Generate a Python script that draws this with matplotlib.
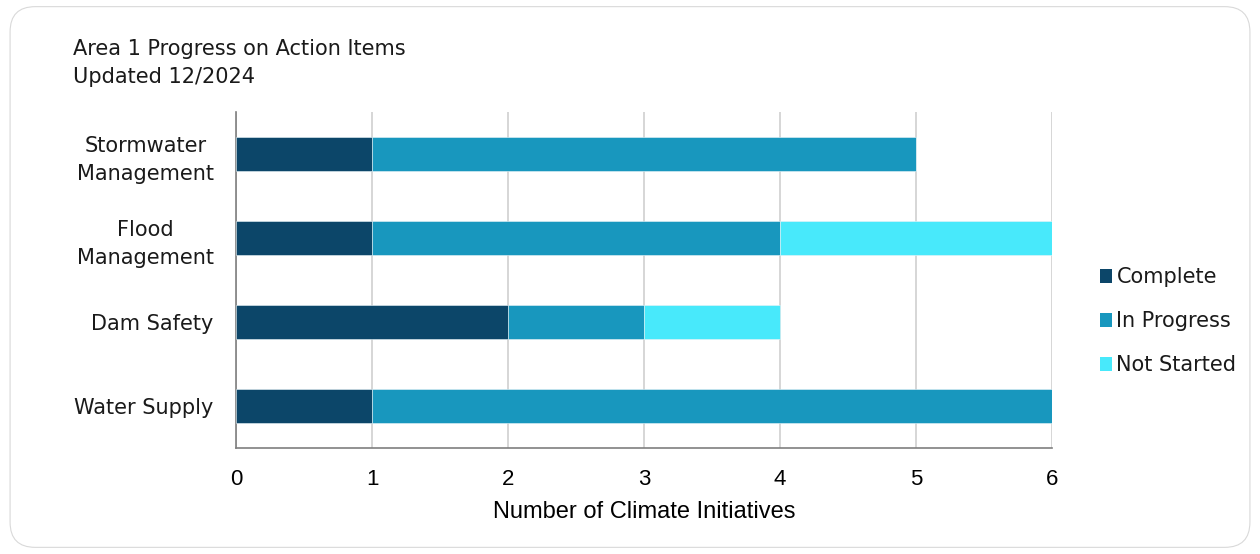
import matplotlib
matplotlib.use("Agg")
import matplotlib.pyplot as plt
from matplotlib.patches import FancyBboxPatch, Patch
import numpy as np

categories = ["Stormwater\nManagement", "Flood\nManagement", "Dam Safety", "Water Supply"]
complete = [1, 1, 2, 1]
in_progress = [4, 3, 1, 5]
not_started = [0, 2, 1, 0]
series_names = ["Complete", "In Progress", "Not Started"]
colors = ["#0c4669", "#1897be", "#48e9fb"]
xticks = [0, 1, 2, 3, 4, 5, 6]

fig = plt.figure(figsize=(12.6, 5.54), dpi=100)
fig.patch.set_facecolor("white")

border = FancyBboxPatch((0.008, 0.012), 0.984, 0.976,
                        boxstyle="round,pad=0,rounding_size=0.02",
                        transform=fig.transFigure, facecolor="none",
                        edgecolor="#d9d9d9", linewidth=0.8,
                        mutation_aspect=1260 / 554, zorder=-1)
fig.patches.append(border)

ax = fig.add_axes([236 / 1260, 1 - 448 / 554, 816 / 1260, 336 / 554])
ax.set_facecolor("none")
y = np.arange(len(categories))
left = np.zeros(len(categories))
for vals, name, c in zip([complete, in_progress, not_started], series_names, colors):
    ax.barh(y, vals, left=left, height=0.4, color=c, label=name, zorder=3,
            edgecolor="#e8f4f8", linewidth=0.4)
    left = left + np.array(vals)

ax.set_ylim(len(categories) - 0.5, -0.5)
ax.set_xlim(0, 6)
ax.set_yticks(y)
ax.set_yticklabels(categories, fontsize=15, family="DejaVu Sans", color="#1a1a1a",
                   linespacing=1.5)
ax.set_xticks(xticks)
ax.set_xticklabels([str(t) for t in xticks], fontsize=16, family="Liberation Sans")
ax.tick_params(axis="both", length=0)
ax.tick_params(axis="x", pad=15)
ax.tick_params(axis="y", pad=16)
ax.set_xlabel("Number of Climate Initiatives", fontsize=17, family="Liberation Sans",
              labelpad=8)
ax.grid(axis="x", color="#cfcfcf", linewidth=1.2, zorder=0)
for s in ["top", "right"]:
    ax.spines[s].set_visible(False)
for s in ["left", "bottom"]:
    ax.spines[s].set_color("#7f7f7f")
    ax.spines[s].set_linewidth(1.2)
for lab in ax.get_yticklabels():
    lab.set_horizontalalignment("right")
    lab.set_multialignment("center")

fig.text(0.058, 0.93, "Area 1 Progress on Action Items\nUpdated 12/2024",
         fontsize=15, family="DejaVu Sans", va="top", ha="left", linespacing=1.5,
         color="#1a1a1a")

handles = [Patch(facecolor=c, label=n) for c, n in zip(colors, series_names)]
leg = fig.legend(handles=handles, loc="center left", bbox_to_anchor=(0.858, 0.42),
                 frameon=False, prop={"family": "DejaVu Sans", "size": 15},
                 handlelength=0.6, handleheight=0.6, handletextpad=0.2,
                 labelspacing=1.15)
for t in leg.get_texts():
    t.set_color("#1a1a1a")

fig.savefig("out.png", dpi=100)
